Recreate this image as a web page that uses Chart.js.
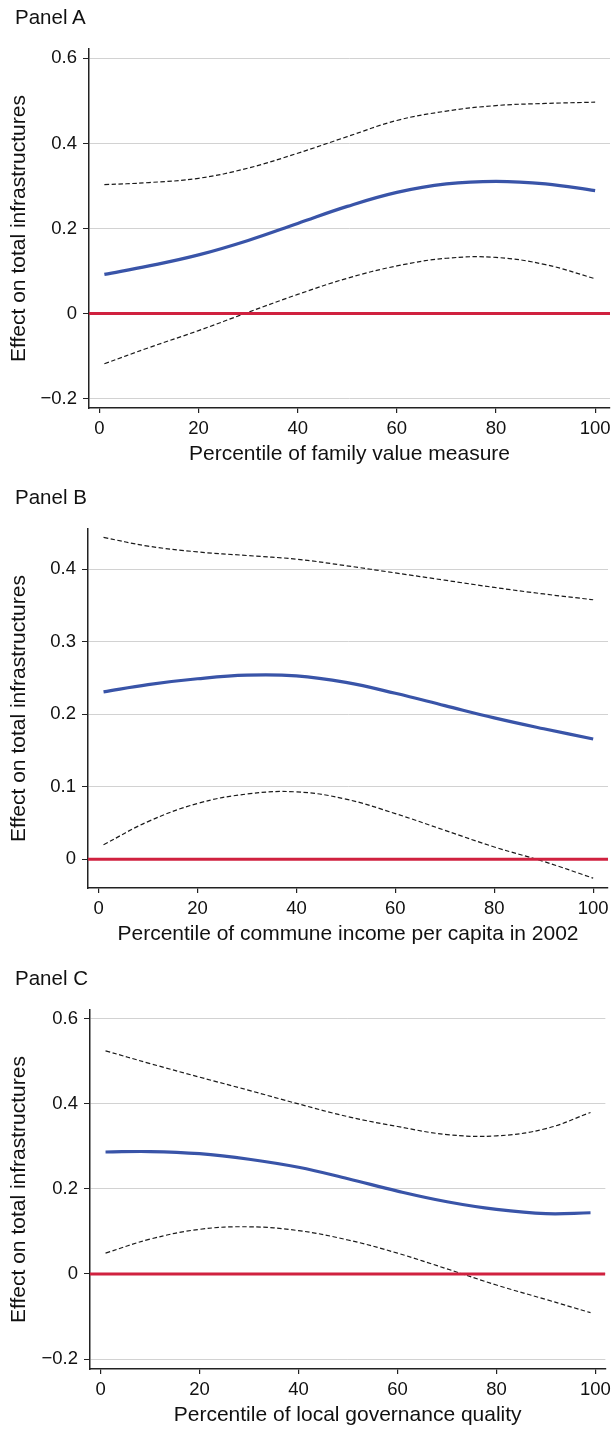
<!DOCTYPE html>
<html>
<head>
<meta charset="utf-8">
<script src="https://cdn.jsdelivr.net/npm/chart.js@4.4.1/dist/chart.umd.min.js"></script>
<style>
  html, body { margin:0; padding:0; background:#fff; overflow:hidden; }
  body { width:616px; height:1430px; position:relative; font-family:"Liberation Sans", Arial, sans-serif; }
  .panel { position:absolute; left:0; width:616px; height:468px; }
  .panel-label { position:absolute; left:15px; top:5px; font-size:20.5px; line-height:24px; color:#111; }
  canvas { position:absolute; left:0; top:0; }
</style>
</head>
<body>
<div class="panel" style="top:0px"><canvas id="chartA" width="616" height="468"></canvas><div class="panel-label">Panel A</div></div>
<div class="panel" style="top:480px"><canvas id="chartB" width="616" height="468"></canvas><div class="panel-label">Panel B</div></div>
<div class="panel" style="top:961px"><canvas id="chartC" width="616" height="468"></canvas><div class="panel-label">Panel C</div></div>
<script>
// ---- data ----
const yTitle = 'Effect on total infrastructures';
const xTicks = [0, 20, 40, 60, 80, 100];

// Panel A – family value measure
const xA     = [1, 10, 20, 30, 40, 50, 60, 70, 80, 90, 100];
const estA   = [0.092, 0.112, 0.138, 0.172, 0.212, 0.252, 0.285, 0.305, 0.311, 0.305, 0.289];
const loA    = [-0.118, -0.080, -0.040, 0.003, 0.045, 0.083, 0.112, 0.130, 0.132, 0.115, 0.082];
const hiA    = [0.303, 0.308, 0.318, 0.342, 0.377, 0.416, 0.454, 0.476, 0.489, 0.494, 0.497];
const yTicksA = [-0.2, 0, 0.2, 0.4, 0.6];

// Panel B – commune income per capita
const xB     = [1, 10, 20, 30, 40, 50, 60, 70, 80, 90, 100];
const estB   = [0.231, 0.241, 0.249, 0.254, 0.253, 0.244, 0.229, 0.212, 0.195, 0.180, 0.166];
const loB    = [0.020, 0.052, 0.077, 0.090, 0.093, 0.083, 0.063, 0.040, 0.017, -0.003, -0.026];
const hiB    = [0.444, 0.432, 0.424, 0.419, 0.414, 0.405, 0.395, 0.385, 0.375, 0.366, 0.358];
const yTicksB = [0, 0.1, 0.2, 0.3, 0.4];

// Panel C – local governance quality
const xC     = [1, 10, 20, 30, 40, 50, 60, 70, 80, 90, 99];
const estC   = [0.287, 0.288, 0.283, 0.270, 0.251, 0.224, 0.195, 0.170, 0.152, 0.142, 0.144];
const loC    = [0.049, 0.082, 0.105, 0.111, 0.102, 0.080, 0.049, 0.012, -0.026, -0.060, -0.091];
const hiC    = [0.525, 0.495, 0.463, 0.432, 0.400, 0.370, 0.347, 0.328, 0.325, 0.342, 0.380];
const yTicksC = [-0.2, 0, 0.2, 0.4, 0.6];

const FONT = '"Liberation Sans", Arial, sans-serif';
const TXT = '#111';
const AXIS = '#222';

function fmtY(v) {
  if (Math.abs(v) < 1e-9) return '0';
  return (v < 0 ? '\u2212' : '') + Math.abs(v).toFixed(1);
}

function pairs(xs, ys) { return xs.map((x, i) => ({ x: x, y: ys[i] })); }

function makePanel(id, p) {
  const dashed = { borderColor:'#1a1a1a', borderWidth:1.2, borderDash:[4.5, 2.5], pointRadius:0, tension:0.4, fill:false };
  new Chart(document.getElementById(id), {
    type: 'line',
    data: {
      datasets: [
        { data: [{ x: p.xMin, y: 0 }, { x: p.xMax, y: 0 }], borderColor:'#d0213f', borderWidth:3, pointRadius:0 },
        Object.assign({ data: pairs(p.xs, p.hi) }, dashed),
        Object.assign({ data: pairs(p.xs, p.lo) }, dashed),
        { data: pairs(p.xs, p.est), borderColor:'#3954a8', borderWidth:3.2, pointRadius:0, tension:0.4 }
      ]
    },
    options: {
      responsive: false,
      animation: false,
      devicePixelRatio: 1,
      layout: { padding: { top: p.padTop, right: 616 - p.right, left: 0, bottom: 0 } },
      plugins: { legend: { display:false }, tooltip: { enabled:false } },
      scales: {
        x: {
          type: 'linear', min: p.xMin, max: p.xMax,
          afterBuildTicks: s => { s.ticks = xTicks.map(v => ({ value: v })); },
          afterFit: s => { s.height = 60; },
          grid: { drawOnChartArea:false, drawTicks:true, tickLength:5, tickColor:AXIS, lineWidth:1.2 },
          border: { color:AXIS, width:1.5 },
          ticks: { font:{ family:FONT, size:18.5 }, color:TXT, padding:5, maxRotation:0, autoSkip:false,
                   callback: v => String(v) },
          title: { display:true, text:p.xTitle, font:{ family:FONT, size:21 }, color:TXT, padding:{ top:0, bottom:1 } }
        },
        y: {
          type: 'linear', min: p.yMin, max: p.yMax,
          afterBuildTicks: s => { s.ticks = p.yTicks.map(v => ({ value: v })); },
          afterFit: s => { s.width = p.left; },
          grid: { color:'#d2d2d2', lineWidth:1, tickLength:6, tickColor:AXIS },
          border: { color:AXIS, width:1.5 },
          ticks: { font:{ family:FONT, size:18.5 }, color:TXT, padding:6, autoSkip:false, callback: fmtY },
          title: { display:true, text:yTitle, font:{ family:FONT, size:21 }, color:TXT, padding:{ top:7, bottom:0 } }
        }
      }
    }
  });
}

makePanel('chartA', { xs:xA, est:estA, lo:loA, hi:hiA, yTicks:yTicksA,
  xMin:-2.1, xMax:103, yMin:-0.222, yMax:0.622, left:89, right:610, padTop:49,
  xTitle:'Percentile of family value measure' });

makePanel('chartB', { xs:xB, est:estB, lo:loB, hi:hiB, yTicks:yTicksB,
  xMin:-2.14, xMax:103, yMin:-0.0396, yMax:0.4556, left:88, right:608, padTop:49,
  xTitle:'Percentile of commune income per capita in 2002' });

makePanel('chartC', { xs:xC, est:estC, lo:loC, hi:hiC, yTicks:yTicksC,
  xMin:-2.14, xMax:102, yMin:-0.2235, yMax:0.621, left:90, right:611, padTop:49,
  xTitle:'Percentile of local governance quality' });
</script>
</body>
</html>
